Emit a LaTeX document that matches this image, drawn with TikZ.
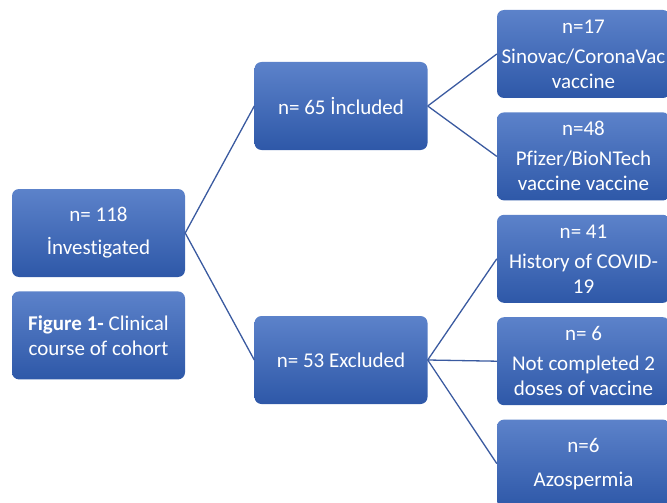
\documentclass[tikz,border=0pt]{standalone}
\usepackage{fontspec}
\setmainfont{Carlito}[Ligatures=NoCommon]
\usetikzlibrary{positioning}
\definecolor{boxtop}{RGB}{92,130,202}
\definecolor{boxbottom}{RGB}{46,88,168}
\definecolor{linkblue}{RGB}{58,90,160}
\tikzstyle{flowbox} = [rounded corners=7pt, top color=boxtop, bottom color=boxbottom, text=white, minimum width=173pt, minimum height=88pt, align=center, inner sep=1pt, font=\fontsize{21}{25}\selectfont]
\tikzstyle{link} = [draw=linkblue, line width=1.3pt]
\begin{document}
\begin{tikzpicture}[x=1pt, y=-1pt, node distance=14pt]
		\useasboundingbox (0,0) rectangle (667,503);
		\clip (0,0) rectangle (667,503);
		% left column
		\node[flowbox] (invest) at (98.5,233) {n= 118\\[8pt]İnvestigated};
		\node[flowbox, below=of invest] (caption) {\textbf{Figure 1-} Clinical\\course of cohort};
		% middle column
		\node[flowbox] (incl) at (341,106) {n= 65 İncluded};
		\node[flowbox] (excl) at (341,360) {n= 53 Excluded};
		% right column
		\node[flowbox] (sinovac) at (583.5,54) {n=17\\[5pt]Sinovac/CoronaVac\\vaccine};
		\node[flowbox, below=of sinovac] (pfizer) {n=48\\[5pt]Pfizer/BioNTech\\vaccine vaccine};
		\node[flowbox, below=of pfizer] (covid) {n= 41\\[5pt]History of COVID-\\19};
		\node[flowbox, below=of covid] (doses) {n= 6\\[5pt]Not completed 2\\doses of vaccine};
		\node[flowbox, below=of doses] (azoo) {n=6\\[9pt]Azospermia};
		% connectors
		\draw[link] (invest.east) -- (incl.west);
		\draw[link] (invest.east) -- (excl.west);
		\draw[link] (incl.east) -- (sinovac.west);
		\draw[link] (incl.east) -- (pfizer.west);
		\draw[link] (excl.east) -- (covid.west);
		\draw[link] (excl.east) -- (doses.west);
		\draw[link] (excl.east) -- (azoo.west);
	\end{tikzpicture}
\end{document}
